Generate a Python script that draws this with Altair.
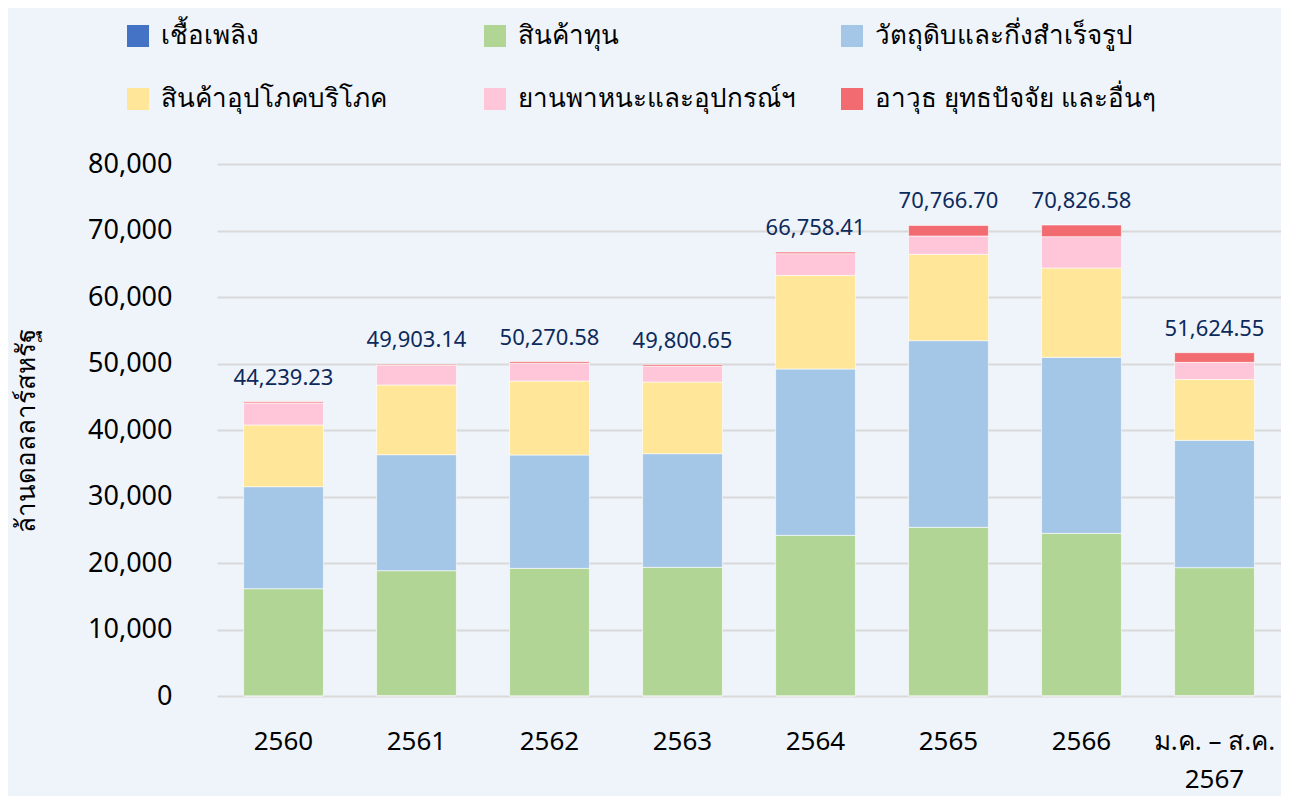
import altair as alt
import pandas as pd

years = ["2560", "2561", "2562", "2563", "2564", "2565", "2566", "ม.ค. – ส.ค.\n2567"]
series = [
    "เชื้อเพลิง",
    "สินค้าทุน",
    "วัตถุดิบและกึ่งสำเร็จรูป",
    "สินค้าอุปโภคบริโภค",
    "ยานพาหนะและอุปกรณ์ฯ",
    "อาวุธ ยุทธปัจจัย และอื่นๆ",
]
colors = ["#4472C4", "#B1D595", "#A4C6E7", "#FFE699", "#FFC5D8", "#F26B70"]

fuel = [20, 60, 25, 30, 40, 35, 45, 60]
capital = [16115, 18782, 19173, 19318, 24120, 25328, 24416, 19238]
raw = [15339, 17444, 17043, 17093, 25013, 28071, 26466, 19148]
consumer = [9276, 10481, 11127, 10777, 14085, 12982, 13434, 9168]
vehicles = [3310, 2962, 2657, 2356, 3258, 2757, 4709, 2556]
arms = [179, 174, 246, 227, 242, 1594, 1757, 1455]
totals = [44239.23, 49903.14, 50270.58, 49800.65, 66758.41, 70766.70, 70826.58, 51624.55]

values_by_series = [fuel, capital, raw, consumer, vehicles, arms]
rows = []
for si, (name, vals) in enumerate(zip(series, values_by_series)):
    for yr, v in zip(years, vals):
        rows.append({"year": yr, "series": name, "value": v, "order": si})
df = pd.DataFrame(rows)
tot_df = pd.DataFrame({"year": years, "total": totals})

FONT = "Noto Sans"

x_enc = alt.X(
    "year:N",
    sort=years,
    scale=alt.Scale(paddingInner=0.4, paddingOuter=0.2),
    axis=alt.Axis(
        title=None,
        labelAngle=0,
        labelFontSize=26,
        labelColor="#000000",
        labelPadding=32,
        labelLineHeight=38,
        labelExpr="split(datum.label, '\\n')",
        domain=False,
        ticks=False,
        labelFont=FONT,
    ),
)

bars = alt.Chart(df).mark_bar(stroke="#FFFFFF", strokeWidth=1, strokeOpacity=0.6).encode(
    x=x_enc,
    y=alt.Y(
        "sum(value):Q",
        stack="zero",
        scale=alt.Scale(domain=[0, 80000]),
        axis=alt.Axis(
            values=[0, 10000, 20000, 30000, 40000, 50000, 60000, 70000, 80000],
            format=",.0f",
            labelFontSize=27,
            labelColor="#000000",
            labelPadding=45,
            labelFont=FONT,
            domain=False,
            ticks=False,
            gridColor="#D9D9D9",
            gridWidth=2,
            title="ล้านดอลลาร์สหรัฐ",
            titleFontSize=26,
            titleFontWeight="normal",
            titleColor="#000000",
            titleFont=FONT,
            titlePadding=48,
        ),
    ),
    color=alt.Color(
        "series:N",
        scale=alt.Scale(domain=series, range=colors),
        legend=alt.Legend(
            title=None,
            orient="none",
            direction="horizontal",
            legendX=-92,
            legendY=-141,
            columns=3,
            gridAlign="all",
            columnPadding=40,
            rowPadding=37,
            symbolType="square",
            symbolSize=484,
            symbolStrokeWidth=0,
            labelFontSize=26,
            labelFont=FONT,
            labelColor="#000000",
            labelOffset=10,
            labelLimit=500,
        ),
    ),
    order=alt.Order("order:Q", sort="ascending"),
)

labels = alt.Chart(tot_df).mark_text(
    dy=-24, fontSize=22, color="#0D2A5C", font=FONT, baseline="middle"
).encode(
    x=alt.X("year:N", sort=years),
    y=alt.Y("total:Q"),
    text=alt.Text("total:Q", format=",.2f"),
)

chart = (
    alt.layer(bars, labels)
    .properties(
        width=1064,
        height=532,
        background="#EFF4FA",
        padding={"left": 5, "top": 15, "right": 0, "bottom": 4},
    )
    .configure_view(stroke=None)
)

chart.save("out.html", embed_options={"renderer": "svg", "actions": False})
